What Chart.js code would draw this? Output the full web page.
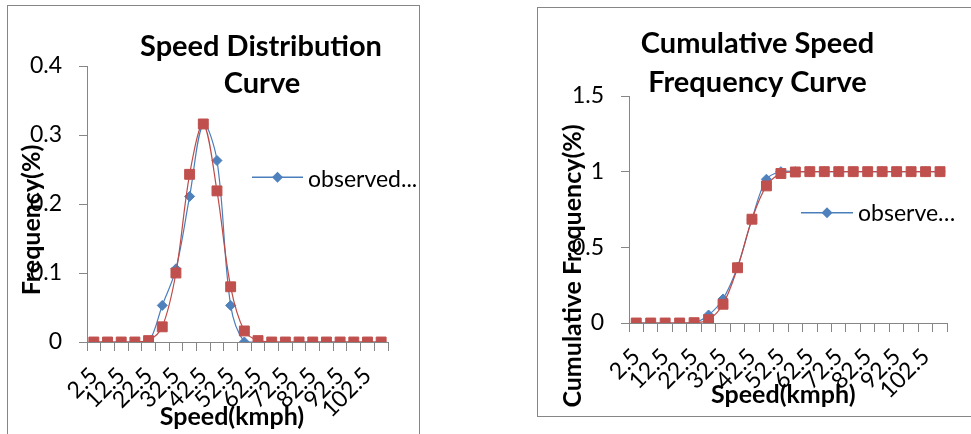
<!DOCTYPE html>
<html>
<head>
<meta charset="utf-8">
<script src="https://cdn.jsdelivr.net/npm/chart.js@4.4.1/dist/chart.umd.min.js"></script>
<style>
  body { margin: 0; background: #fff; width: 971px; height: 434px; overflow: hidden; position: relative; }
  .box { position: absolute; border: 1px solid #868686; background: #fff; }
  #box1 { left: 7px; top: 5px; width: 411px; height: 440px; border-bottom: none; }
  #box2 { left: 537px; top: 7px; width: 440px; height: 408px; border-right: none; }
  canvas { display: block; }
</style>
</head>
<body>
<div class="box" id="box1"><canvas id="speed_chart" width="411" height="428"></canvas></div>
<div class="box" id="box2"><canvas id="cumulative_chart" width="433" height="408"></canvas></div>
<script>
// speed classes (kmph)
var speeds = ['2.5', '7.5', '12.5', '17.5', '22.5', '27.5', '32.5', '37.5', '42.5', '47.5', '52.5',
    '57.5', '62.5', '67.5', '72.5', '77.5', '82.5', '87.5', '92.5', '97.5', '102.5', '107.5'];

var observedFreq = [0, 0, 0, 0, 0, 0.053, 0.106, 0.211, 0.316, 0.263, 0.053,
    0, 0, 0, 0, 0, 0, 0, 0, 0, 0, 0];
var expectedFreq = [0, 0, 0, 0, 0.002, 0.022, 0.100, 0.243, 0.316, 0.219, 0.080,
    0.016, 0.002, 0, 0, 0, 0, 0, 0, 0, 0, 0];

var observedCum = [0, 0, 0, 0, 0, 0.053, 0.159, 0.370, 0.686, 0.950, 1.0,
    1, 1, 1, 1, 1, 1, 1, 1, 1, 1, 1];
var expectedCum = [0, 0, 0, 0, 0.002, 0.022, 0.124, 0.365, 0.686, 0.906, 0.988,
    0.998, 1, 1, 1, 1, 1, 1, 1, 1, 1, 1];

Chart.defaults.font.family = 'Lato';
Chart.defaults.color = '#000';

var axisGrey = '#868686';
var blueLine = '#4a7ebb', blueMark = '#4f81bd';
var redLine = '#be4b48', redMark = '#c0504d';

// titles, axis titles and legend are drawn over the plot like the excel sheet does
var overlayText = {
    id: 'overlayText',
    afterDraw: function (chart, args, opts) {
        var ctx = chart.ctx;
        ctx.save();
        ctx.fillStyle = '#000';
        opts.items.forEach(function (t) {
            ctx.save();
            ctx.font = t.font;
            ctx.textAlign = 'center';
            ctx.textBaseline = 'alphabetic';
            ctx.translate(t.x, t.y);
            if (t.rotate) ctx.rotate(t.rotate);
            ctx.fillText(t.text, 0, 0);
            ctx.restore();
        });

        var lg = opts.legend;
        var ds = chart.data.datasets[0];
        ctx.strokeStyle = ds.borderColor;
        ctx.lineWidth = 1.5;
        ctx.beginPath();
        ctx.moveTo(lg.x, lg.y);
        ctx.lineTo(lg.x + lg.w, lg.y);
        ctx.stroke();
        var cx = lg.x + lg.w / 2, r = 5.5;
        ctx.fillStyle = ds.pointBackgroundColor;
        ctx.beginPath();
        ctx.moveTo(cx, lg.y - r);
        ctx.lineTo(cx + r, lg.y);
        ctx.lineTo(cx, lg.y + r);
        ctx.lineTo(cx - r, lg.y);
        ctx.closePath();
        ctx.fill();
        ctx.fillStyle = '#000';
        ctx.font = '23px Lato';
        ctx.textAlign = 'left';
        ctx.textBaseline = 'alphabetic';
        ctx.fillText(lg.text, lg.x + lg.w + 5, lg.textY);
        ctx.restore();
    }
};

function lineSet(label, data, line, mark, style, radius, order) {
    return {
        label: label,
        data: data,
        borderColor: line,
        backgroundColor: mark,
        pointBackgroundColor: mark,
        pointBorderColor: mark,
        pointBorderWidth: 1,
        pointStyle: style,
        pointRadius: radius,
        pointHoverRadius: radius,
        borderWidth: 1.2,
        tension: 0.35,
        order: order
    };
}

function makeScales(yMax, yStep, yWidth, xHeight) {
    return {
        x: {
            type: 'category',
            offset: true,
            grid: { offset: true, drawOnChartArea: false, drawTicks: true, tickLength: 9, color: axisGrey },
            border: { color: axisGrey, width: 1 },
            ticks: {
                autoSkip: false,
                minRotation: 45,
                maxRotation: 45,
                padding: 11,
                font: { size: 23 },
                callback: function (v, i) { return i % 2 === 0 ? speeds[i] : ''; }
            },
            afterFit: function (scale) { scale.height = xHeight; }
        },
        y: {
            min: 0,
            max: yMax,
            grid: { drawOnChartArea: false, drawTicks: true, tickLength: 8, color: axisGrey },
            border: { color: axisGrey, width: 1 },
            ticks: {
                stepSize: yStep,
                padding: 17,
                font: { size: 23 },
                callback: function (v) { return String(Number(v.toFixed(2))); }
            },
            afterFit: function (scale) { scale.width = yWidth; }
        }
    };
}

var speed_chart = document.getElementById('speed_chart');
var My_speed_chart = new Chart(speed_chart, {
    type: 'line',
    data: {
        labels: speeds,
        datasets: [
            lineSet('observed', observedFreq, blueLine, blueMark, 'rectRot', 5, 2),
            lineSet('expected', expectedFreq, redLine, redMark, 'rect', 7, 1)
        ]
    },
    options: {
        responsive: false,
        animation: false,
        layout: { padding: { left: 0, top: 60, right: 31, bottom: 0 } },
        scales: makeScales(0.4, 0.1, 79, 92),
        plugins: {
            legend: { display: false },
            tooltip: { enabled: false },
            overlayText: {
                items: [
                    { text: 'Speed Distribution', x: 253, y: 49.5, font: 'bold 29px Lato' },
                    { text: 'Curve', x: 254, y: 87.3, font: 'bold 29px Lato' },
                    { text: 'Speed(kmph)', x: 224, y: 418.5, font: 'bold 25px Lato' },
                    { text: 'Frequency(%)', x: 31.5, y: 214, font: 'bold 25px Lato', rotate: -Math.PI / 2 }
                ],
                legend: { x: 244, y: 171.3, w: 51, text: 'observed...', textY: 181.3 }
            }
        }
    },
    plugins: [overlayText]
});

var cumulative_chart = document.getElementById('cumulative_chart');
var My_cumulative_chart = new Chart(cumulative_chart, {
    type: 'line',
    data: {
        labels: speeds,
        datasets: [
            lineSet('observed', observedCum, blueLine, blueMark, 'rectRot', 5, 2),
            lineSet('expected', expectedCum, redLine, redMark, 'rect', 7, 1)
        ]
    },
    options: {
        responsive: false,
        animation: false,
        layout: { padding: { left: 0, top: 88, right: 20, bottom: 0 } },
        scales: makeScales(1.5, 0.5, 91, 93),
        plugins: {
            legend: { display: false },
            tooltip: { enabled: false },
            overlayText: {
                items: [
                    { text: 'Cumulative Speed', x: 219.5, y: 45.3, font: 'bold 29px Lato' },
                    { text: 'Frequency Curve', x: 219.5, y: 83.7, font: 'bold 29px Lato' },
                    { text: 'Speed(kmph)', x: 245.3, y: 395.3, font: 'bold 25px Lato' },
                    { text: 'Cumulative Frequency(%)', x: 42.5, y: 258, font: 'bold 25px Lato', rotate: -Math.PI / 2 }
                ],
                legend: { x: 263, y: 204.7, w: 52, text: 'observe…', textY: 212.7 }
            }
        }
    },
    plugins: [overlayText]
});
</script>
</body>
</html>
